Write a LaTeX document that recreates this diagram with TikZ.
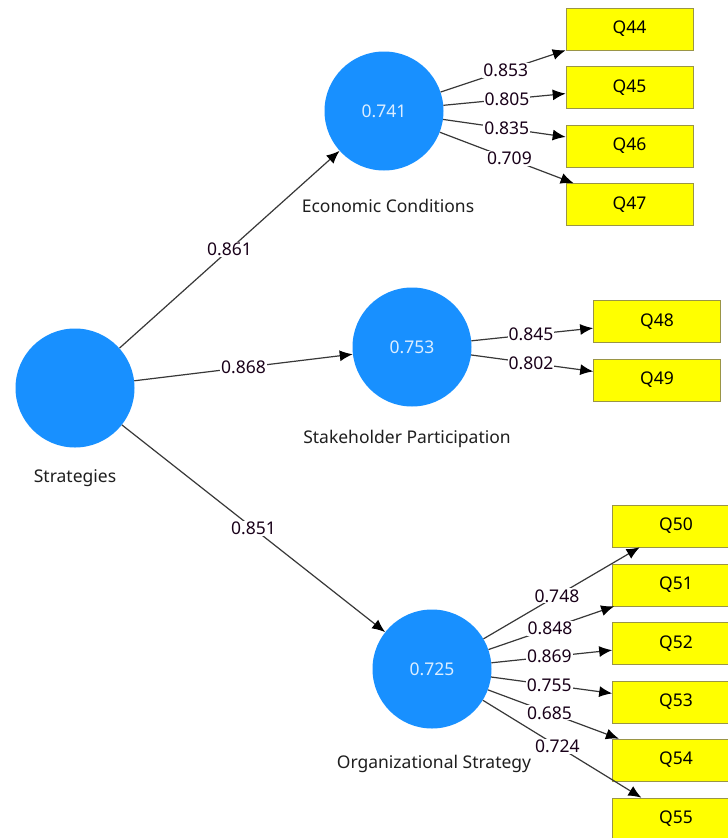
\documentclass[tikz,border=0pt]{standalone}
\usepackage{fontspec}
\setmainfont{Noto Sans}
\usetikzlibrary{arrows.meta}
\definecolor{lvblue}{RGB}{24,144,255}
\definecolor{mvyellow}{RGB}{255,255,0}
\begin{document}
\begin{tikzpicture}[x=1pt,y=-1pt,every node/.style={font=\fontsize{17.5}{20}\selectfont}]
        \tikzset{latent/.style={circle,fill=lvblue,minimum size=119pt,inner sep=0pt,text=white!85!lvblue},
          manifest/.style={rectangle,fill=mvyellow,draw=yellow!55!black,line width=0.6pt,minimum width=127pt,minimum height=42pt,inner sep=0pt},
          link/.style={draw=black!78,line width=1.2pt,-{Latex[length=13pt,width=11pt,color=black]}},
          coef/.style={fill=white,inner sep=1pt,text=black!80!violet},
          lvname/.style={text=black!88}};
        \clip (0,0) rectangle (728,838);
        \fill[white] (0,0) rectangle (728,838);
        % latent variables
        \node[latent] (str) at (75,388) {};
        \node[latent] (ec) at (384,111) {0.741};
        \node[latent] (sp) at (412,347) {0.753};
        \node[latent] (os) at (432,669) {0.725};
        \node[lvname] (strname) at (75,478) {Strategies};
        \node[lvname] (ecname) at (388,206) {Economic Conditions};
        \node[lvname] (spname) at (407,439) {Stakeholder Participation};
        \node[lvname] (osname) at (434,764) {Organizational Strategy};
        % indicators
        \node[manifest] (q44) at (629.5,29) {Q44};
        \node[manifest] (q45) at (629.5,87.5) {Q45};
        \node[manifest] (q46) at (629.5,146) {Q46};
        \node[manifest] (q47) at (629.5,204.5) {Q47};
        \node[manifest] (q48) at (657,321.5) {Q48};
        \node[manifest] (q49) at (657,380) {Q49};
        \node[manifest] (q50) at (676,526) {Q50};
        \node[manifest] (q51) at (676,585) {Q51};
        \node[manifest] (q52) at (676,643.5) {Q52};
        \node[manifest] (q53) at (676,702) {Q53};
        \node[manifest] (q54) at (676,760) {Q54};
        \node[manifest] (q55) at (676,819) {Q55};
        % inner model
        \draw[link] (str) -- node[coef,pos=0.5] {0.861} (ec);
        \draw[link] (str) -- node[coef,pos=0.5] {0.868} (sp);
        \draw[link] (str) -- node[coef,pos=0.5] {0.851} (os);
        % outer model
        \draw[link] (ec) -- node[coef,pos=0.52] {0.853} (q44);
        \draw[link] (ec) -- node[coef,pos=0.52] {0.805} (q45);
        \draw[link] (ec) -- node[coef,pos=0.52] {0.835} (q46);
        \draw[link] (ec) -- node[coef,pos=0.52] {0.709} (q47);
        \draw[link] (sp) -- node[coef,pos=0.49] {0.845} (q48);
        \draw[link] (sp) -- node[coef,pos=0.49] {0.802} (q49);
        \draw[link] (os) -- node[coef,pos=0.47] {0.748} (q50);
        \draw[link] (os) -- node[coef,pos=0.49] {0.848} (q51);
        \draw[link] (os) -- node[coef,pos=0.48] {0.869} (q52);
        \draw[link] (os) -- node[coef,pos=0.48] {0.755} (q53);
        \draw[link] (os) -- node[coef,pos=0.47] {0.685} (q54);
        \draw[link] (os) -- node[coef,pos=0.47] {0.724} (q55);
\end{tikzpicture}
\end{document}
